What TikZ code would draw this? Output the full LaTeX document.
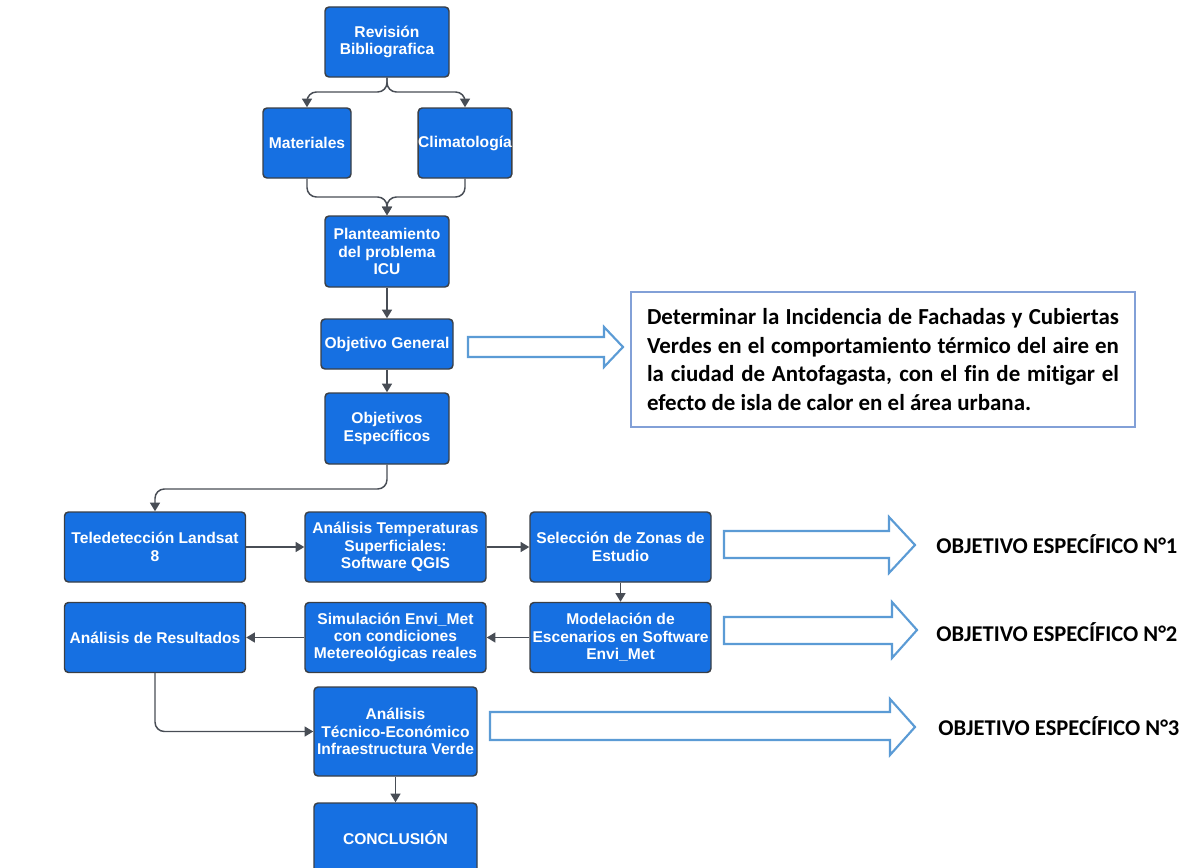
\documentclass[tikz,border=0pt]{standalone}
\usepackage{fontspec}
\setmainfont{Liberation Sans}
\newfontfamily\boxfont{Liberation Sans}
\newfontfamily\calib[Ligatures=NoCommon]{Carlito}
\usetikzlibrary{arrows.meta}
\definecolor{boxblue}{RGB}{22,112,226}
\definecolor{boxedge}{RGB}{58,63,70}
\definecolor{conngray}{RGB}{72,77,85}
\definecolor{hollowblue}{RGB}{91,155,213}
\definecolor{tbedge}{RGB}{130,160,215}
\tikzset{
  stepbox/.style 2 args={draw=boxedge, line width=1.1pt, fill=boxblue, rounded corners=3pt,
    minimum width=#1*0.75pt, minimum height=#2*0.75pt, inner sep=0pt,
    text=white, align=center, font=\boxfont\fontsize{11.7}{13}\selectfont\bfseries},
  conn/.style={draw=conngray, line width=1.1pt, rounded corners=7pt,
    -{Triangle[length=6.5pt,width=7.5pt]}},
  hollow/.style={draw=hollowblue, line width=1.6pt, fill=white, line join=miter},
  objlbl/.style={anchor=west, inner sep=0pt, font=\calib\fontsize{16.9}{20}\selectfont\bfseries}
}
\begin{document}
\begin{tikzpicture}[x=0.75pt,y=-0.75pt]
\useasboundingbox (0,0) rectangle (1187,867);
\clip (0,0) rectangle (1187,867);
% boxes
\node[stepbox={124}{70}] (rev) at (387,42) {Revisión\\Bibliografica};
\node[stepbox={88}{70}] (mat) at (307,143) {Materiales};
\node[stepbox={91}{70}] (cli) at (465,143) {Climatología};
\node[stepbox={124}{71}] (pla) at (387,251.5) {Planteamiento\\del problema\\ICU};
\node[stepbox={132}{50}] (og) at (387,344) {Objetivo General};
\node[stepbox={124}{71}] (oe) at (387,428.5) {Objetivos\\Específicos};
\node[stepbox={181}{70}] (tel) at (155,547) {Teledetección Landsat\\8};
\node[stepbox={181}{70}] (ana) at (395.5,547) {Análisis Temperaturas\\Superficiales:\\Software QGIS};
\node[stepbox={181}{70}] (sel) at (620.5,547) {Selección de Zonas de\\Estudio};
\node[stepbox={181}{70}] (mod) at (620.5,637.5) {Modelación de\\Escenarios en Software\\Envi\_Met};
\node[stepbox={181}{70}] (sim) at (395.5,637.5) {Simulación Envi\_Met\\con condiciones\\Metereológicas reales};
\node[stepbox={181}{70}] (res) at (155,637.5) {Análisis de Resultados};
\node[stepbox={163}{89}] (tec) at (395.5,731.5) {Análisis\\Técnico-Económico\\Infraestructura Verde};
\node[stepbox={163}{70}] (con) at (395.5,838) {CONCLUSIÓN};
% helper coordinates
\coordinate (split) at (387,92);
\coordinate (merge) at (387,197);
\coordinate (bend) at (387,489);
% connectors
\draw[conn] (rev.south) -- (split) -| (mat.north);
\draw[conn] (rev.south) -- (split) -| (cli.north);
\draw[conn] (mat.south) |- (merge) -- (pla.north);
\draw[conn] (cli.south) |- (merge) -- (pla.north);
\draw[conn] (pla.south) -- (og.north);
\draw[conn] (og.south) -- (oe.north);
\draw[conn] (oe.south) -- (bend) -| (tel.north);
\draw[conn] (tel.east) -- (ana.west);
\draw[conn] (ana.east) -- (sel.west);
\draw[conn] (sel.south) -- (mod.north);
\draw[conn] (mod.west) -- (sim.east);
\draw[conn] (sim.west) -- (res.east);
\draw[conn] (res.south) |- (tec.west);
\draw[conn] (tec.south) -- (con.north);
% hollow arrows
\draw[hollow] (468,337) -- (604,337) -- (604,327) -- (623,347) -- (604,367) -- (604,357) -- (468,357) -- cycle;
\draw[hollow] (724,531) -- (889,531) -- (889,517) -- (915,545) -- (889,573) -- (889,558) -- (724,558) -- cycle;
\draw[hollow] (724,617) -- (892,617) -- (892,602) -- (917,630) -- (892,658) -- (892,644) -- (724,644) -- cycle;
\draw[hollow] (490,712) -- (890,712) -- (890,699) -- (915,727) -- (890,755) -- (890,740) -- (490,740) -- cycle;
% text box
\node[draw=tbedge, line width=1pt, minimum width=504*0.75pt, minimum height=135*0.75pt,
  text width=354pt, align=justify, inner sep=0pt,
  font=\calib\fontsize{17.2}{21.6}\selectfont\bfseries] (tb) at (883,359.5)
  {Determinar la Incidencia de Fachadas y Cubiertas Verdes en el comportamiento térmico del aire en la ciudad de Antofagasta, con el fin de mitigar el efecto de isla de calor en el área urbana.};
% labels
\node[objlbl] (o1) at (936,544) {OBJETIVO ESPECÍFICO N°1};
\node[objlbl] (o2) at (936,632) {OBJETIVO ESPECÍFICO N°2};
\node[objlbl] (o3) at (938,726) {OBJETIVO ESPECÍFICO N°3};
\end{tikzpicture}
\end{document}
